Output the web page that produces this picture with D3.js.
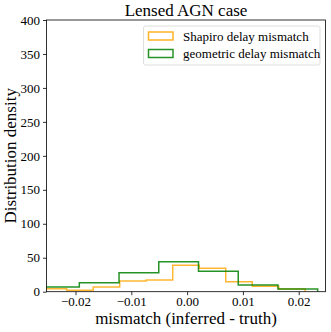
<!DOCTYPE html>
<html>
<head>
<meta charset="utf-8">
<script src="https://cdn.jsdelivr.net/npm/d3@7/dist/d3.min.js"></script>
<style>
  body { margin: 0; background: #fff; }
</style>
</head>
<body>
<svg id="chart"></svg>
<script>
// histogram bin edges and density heights
var shapiroEdges = [-0.02633, -0.02158, -0.01683, -0.01208, -0.00733, -0.00258, 0.00217, 0.00692, 0.01167, 0.01642, 0.02116];
var shapiroDensity = [4.4, 2, 7, 15.7, 17.2, 39, 34.4, 14.7, 8, 4];
var geomEdges = [-0.02644, -0.01932, -0.01220, -0.00508, 0.00204, 0.00916, 0.01628, 0.02340];
var geomDensity = [7, 13, 28, 44, 30, 10, 4];
var xTicks = [-0.02, -0.01, 0.00, 0.01, 0.02];
var yTicks = [0, 50, 100, 150, 200, 250, 300, 350, 400];
var seriesNames = ["Shapiro delay mismatch", "geometric delay mismatch"];
var seriesColors = ["#ffa500", "#008000"];

var w = 331, h = 332;
var pLeft = 46.5, pRight = 325.5, pTop = 20, pBottom = 291.7;
var serif = "'Liberation Serif', 'Times New Roman', serif";

var svg = d3.select("#chart").attr("width", w).attr("height", h);

var x = d3.scaleLinear().domain([-0.0252, 0.0248]).range([pLeft, pRight]);
var y = d3.scaleLinear().domain([0, 400]).range([pBottom, pTop]);

svg.append("defs").append("clipPath").attr("id", "clip")
    .append("rect")
    .attr("x", pLeft).attr("y", pTop)
    .attr("width", pRight - pLeft).attr("height", pBottom - pTop);

// step outline like matplotlib histtype='step'
function stepPath(edges, vals) {
    var p = "M" + x(edges[0]) + "," + y(0);
    vals.forEach((v, i) => {
        p += "L" + x(edges[i]) + "," + y(v) + "L" + x(edges[i + 1]) + "," + y(v);
    });
    p += "L" + x(edges[edges.length - 1]) + "," + y(0);
    return p;
}

var plot = svg.append("g").attr("clip-path", "url(#clip)");
plot.append("path")
    .attr("d", stepPath(shapiroEdges, shapiroDensity))
    .attr("fill", "none")
    .attr("stroke", seriesColors[0])
    .attr("stroke-width", 1.5)
    .attr("stroke-opacity", 0.8);
plot.append("path")
    .attr("d", stepPath(geomEdges, geomDensity))
    .attr("fill", "none")
    .attr("stroke", seriesColors[1])
    .attr("stroke-width", 1.5)
    .attr("stroke-opacity", 0.85);

// axes
var fmtX = v => (v < 0 ? "\u2212" : "") + Math.abs(v).toFixed(2);
var xAxis = svg.append("g")
    .attr("transform", "translate(0," + pBottom + ")")
    .call(d3.axisBottom(x).tickValues(xTicks).tickFormat(fmtX).tickSizeInner(3.5).tickSizeOuter(0).tickPadding(2));
var yAxis = svg.append("g")
    .attr("transform", "translate(" + pLeft + ",0)")
    .call(d3.axisLeft(y).tickValues(yTicks).tickSizeInner(3.5).tickSizeOuter(0).tickPadding(3));
[xAxis, yAxis].forEach(a => {
    a.select(".domain").remove();
    a.attr("font-family", null).attr("font-size", null);
    a.selectAll("line").attr("stroke", "#000").attr("stroke-width", 0.8);
    a.selectAll("text").style("font-family", serif).style("font-size", "13px").attr("fill", "#000");
});

// frame
svg.append("rect")
    .attr("x", pLeft).attr("y", pTop)
    .attr("width", pRight - pLeft).attr("height", pBottom - pTop)
    .attr("fill", "none").attr("stroke", "#000").attr("stroke-width", 0.8);

// title and labels
function label(t) {
    return t.style("font-family", serif).style("font-size", "17px").attr("text-anchor", "middle").attr("fill", "#000");
}
label(svg.append("text")
    .attr("x", (pLeft + pRight) / 2).attr("y", 16))
    .text("Lensed AGN case");
label(svg.append("text")
    .attr("x", (pLeft + pRight) / 2).attr("y", 323.5))
    .text("mismatch (inferred - truth)");
label(svg.append("text")
    .attr("transform", "translate(16," + (pTop + pBottom) / 2 + ") rotate(-90)"))
    .text("Distribution density");

// legend
var lg = svg.append("g");
lg.append("rect")
    .attr("x", 143.5).attr("y", 26).attr("width", 176.5).attr("height", 39)
    .attr("rx", 2).attr("fill", "#fff").attr("fill-opacity", 0.8)
    .attr("stroke", "#d6d6d6").attr("stroke-width", 0.8);
seriesNames.forEach((name, i) => {
    var yy = 32 + i * 17.5;
    lg.append("rect")
        .attr("x", 148.5).attr("y", yy).attr("width", 24.5).attr("height", 8)
        .attr("fill", "none").attr("stroke", seriesColors[i]).attr("stroke-width", 1.5)
        .attr("stroke-opacity", 0.85);
    lg.append("text")
        .attr("x", 183).attr("y", yy + 8.5)
        .style("font-family", serif).style("font-size", "13px").attr("fill", "#000")
        .text(name);
});
</script>
</body>
</html>
